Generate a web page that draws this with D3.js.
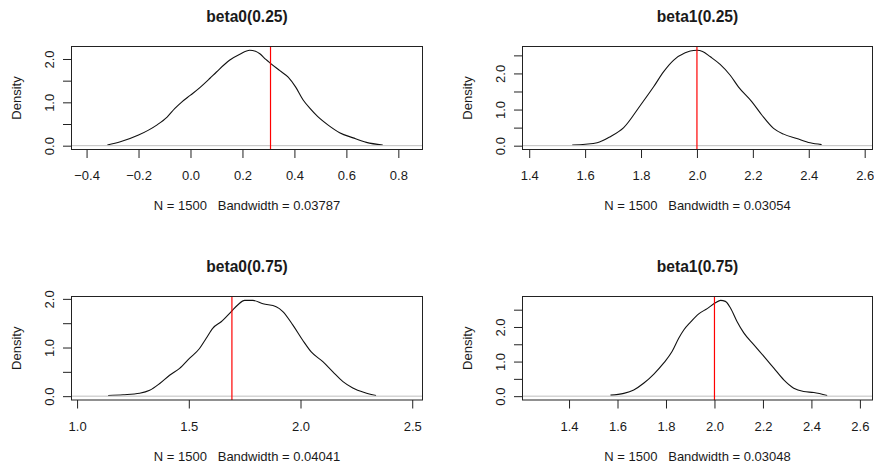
<!DOCTYPE html>
<html>
<head>
<meta charset="utf-8">
<script src="https://cdn.jsdelivr.net/npm/d3@7"></script>
<style>
  body { margin: 0; background: #fff; }
  svg { display: block; }
  text { font-family: "Liberation Sans", Arial, sans-serif; fill: #1a1a1a; }
</style>
</head>
<body>
<svg id="chart"></svg>
<script>
// panel titles and bottom labels
const titles = ["beta0(0.25)", "beta1(0.25)", "beta0(0.75)", "beta1(0.75)"];
const subLabels = [
  "N = 1500   Bandwidth = 0.03787",
  "N = 1500   Bandwidth = 0.03054",
  "N = 1500   Bandwidth = 0.04041",
  "N = 1500   Bandwidth = 0.03048",
];

// density curves
const b0q25X = [-0.32, -0.27, -0.2, -0.13, -0.09, -0.06, -0.035, 0.0, 0.036, 0.074, 0.1, 0.15, 0.19, 0.228, 0.25, 0.267, 0.29, 0.308, 0.344, 0.376, 0.405, 0.433, 0.46, 0.49, 0.53, 0.574, 0.626, 0.677, 0.74];
const b0q25Y = [0.015, 0.09, 0.245, 0.475, 0.66, 0.86, 1.0, 1.165, 1.34, 1.55, 1.7, 1.97, 2.11, 2.2, 2.18, 2.12, 1.99, 1.9, 1.73, 1.58, 1.35, 1.06, 0.86, 0.67, 0.475, 0.3, 0.18, 0.077, 0.015];

const b1q25X = [1.554, 1.601, 1.643, 1.69, 1.738, 1.798, 1.845, 1.881, 1.917, 1.958, 1.976, 2.0, 2.02, 2.048, 2.083, 2.119, 2.149, 2.196, 2.232, 2.274, 2.31, 2.357, 2.405, 2.446];
const b1q25Y = [0.02, 0.04, 0.08, 0.25, 0.5, 1.12, 1.63, 2.05, 2.37, 2.57, 2.62, 2.64, 2.61, 2.46, 2.25, 1.95, 1.62, 1.22, 0.85, 0.48, 0.32, 0.2, 0.08, 0.03];

const b0q75X = [1.139, 1.206, 1.28, 1.325, 1.37, 1.414, 1.459, 1.504, 1.548, 1.578, 1.608, 1.645, 1.69, 1.72, 1.75, 1.787, 1.832, 1.891, 1.921, 1.966, 2.01, 2.048, 2.1, 2.145, 2.19, 2.234, 2.286, 2.338];
const b0q75Y = [0.014, 0.03, 0.06, 0.12, 0.26, 0.43, 0.57, 0.78, 0.98, 1.19, 1.4, 1.53, 1.74, 1.88, 1.97, 1.97, 1.9, 1.84, 1.74, 1.46, 1.15, 0.91, 0.71, 0.5, 0.3, 0.17, 0.076, 0.014];

const b1q75X = [1.571, 1.626, 1.667, 1.709, 1.75, 1.791, 1.825, 1.853, 1.874, 1.901, 1.935, 1.97, 2.004, 2.025, 2.045, 2.066, 2.093, 2.121, 2.162, 2.21, 2.245, 2.286, 2.327, 2.368, 2.41, 2.465];
const b1q75Y = [0.03, 0.08, 0.18, 0.38, 0.64, 0.96, 1.29, 1.68, 1.92, 2.14, 2.38, 2.53, 2.7, 2.77, 2.74, 2.55, 2.16, 1.83, 1.49, 1.1, 0.81, 0.47, 0.23, 0.135, 0.106, 0.02];

// red reference lines
const refValues = [0.308, 2.0, 1.693, 2.0];

// axis ticks
const xTicks = [
  [-0.4, -0.2, 0.0, 0.2, 0.4, 0.6, 0.8],
  [1.4, 1.6, 1.8, 2.0, 2.2, 2.4, 2.6],
  [1.0, 1.5, 2.0, 2.5],
  [1.4, 1.6, 1.8, 2.0, 2.2, 2.4, 2.6],
];
const yTicks = [
  [0, 0.5, 1, 1.5, 2],
  [0, 0.5, 1, 1.5, 2, 2.5],
  [0, 0.5, 1, 1.5, 2],
  [0, 0.5, 1, 1.5, 2, 2.5],
];
const xDomains = [[-0.458, 0.893], [1.376, 2.628], [0.975, 2.546], [1.208, 2.652]];

const curvesX = [b0q25X, b1q25X, b0q75X, b1q75X];
const curvesY = [b0q25Y, b1q25Y, b0q75Y, b1q75Y];

const W = 874;
const H = 470;

// plot regions (left, right, top, bottom)
const boxes = [
  { l: 71.5, r: 422.5, t: 46.5, b: 149.5 },
  { l: 522.5, r: 872.5, t: 46.5, b: 149.5 },
  { l: 71.5, r: 422.5, t: 296.5, b: 400 },
  { l: 522.5, r: 872.5, t: 296.5, b: 400 },
];

const svg = d3.select("#chart").attr("width", W).attr("height", H);

titles.forEach((title, i) => {
  const box = boxes[i];
  const xs = curvesX[i];
  const ys = curvesY[i];
  const data = xs.map((x, j) => ({ x: x, y: ys[j] }));

  const xScale = d3.scaleLinear().domain(xDomains[i]).range([box.l, box.r]);
  // R style: 4% padding around [0, max]
  const yMax = d3.max(ys);
  const yScale = d3
    .scaleLinear()
    .domain([-0.04 * yMax, 1.04 * yMax])
    .range([box.b, box.t]);

  const g = svg.append("g").attr("class", "panel");

  //density curve
  g.append("path")
    .datum(data)
    .attr("fill", "none")
    .attr("stroke", "#111")
    .attr("stroke-width", 1.1)
    .attr(
      "d",
      d3
        .line()
        .x((d) => xScale(d.x))
        .y((d) => yScale(d.y))
        .curve(d3.curveMonotoneX)
    );

  //zero line
  g.append("line")
    .attr("x1", box.l)
    .attr("x2", box.r)
    .attr("y1", yScale(0))
    .attr("y2", yScale(0))
    .attr("stroke", "#bebebe")
    .attr("stroke-width", 1);

  //red line
  g.append("line")
    .attr("x1", xScale(refValues[i]))
    .attr("x2", xScale(refValues[i]))
    .attr("y1", box.t)
    .attr("y2", box.b)
    .attr("stroke", "#ff0000")
    .attr("stroke-width", 1.2);

  //box
  g.append("rect")
    .attr("x", box.l)
    .attr("y", box.t)
    .attr("width", box.r - box.l)
    .attr("height", box.b - box.t)
    .attr("fill", "none")
    .attr("stroke", "#222")
    .attr("stroke-width", 1);

  //axes
  const xAxis = d3
    .axisBottom(xScale)
    .tickValues(xTicks[i])
    .tickSizeOuter(0)
    .tickSize(8.5)
    .tickFormat(d3.format(".1f"));
  const yAxis = d3
    .axisLeft(yScale)
    .tickValues(yTicks[i])
    .tickSizeOuter(0)
    .tickSize(8.5)
    .tickFormat((d) => (d % 1 === 0 ? d3.format(".1f")(d) : ""));

  const gx = g
    .append("g")
    .attr("transform", `translate(0, ${box.b})`)
    .call(xAxis);
  gx.select(".domain").remove();
  gx.selectAll(".tick line").attr("stroke", "#222");
  gx.selectAll(".tick text")
    .attr("y", 30.5)
    .attr("dy", 0)
    .style("font-size", "13px")
    .attr("fill", "#1a1a1a");

  const gy = g
    .append("g")
    .attr("transform", `translate(${box.l}, 0)`)
    .call(yAxis);
  gy.select(".domain").remove();
  gy.selectAll(".tick line").attr("stroke", "#222");
  gy.selectAll(".tick text")
    .attr("x", 0)
    .attr("y", -18)
    .attr("dy", 0)
    .attr("text-anchor", "middle")
    .attr("transform", "rotate(-90)")
    .style("font-size", "13px")
    .attr("fill", "#1a1a1a");

  //labels
  const cx = (box.l + box.r) / 2;
  g.append("text")
    .attr("x", cx)
    .attr("y", box.t - 24.8)
    .attr("text-anchor", "middle")
    .style("font-size", "15.6px")
    .style("font-weight", "bold")
    .text(title);

  g.append("text")
    .attr("x", cx)
    .attr("y", box.b + 60.5)
    .attr("text-anchor", "middle")
    .style("font-size", "13px")
    .style("white-space", "pre")
    .text(subLabels[i]);

  g.append("text")
    .attr("transform", `translate(${box.l - 51}, ${(box.t + box.b) / 2}) rotate(-90)`)
    .attr("text-anchor", "middle")
    .style("font-size", "13px")
    .text("Density");
});
</script>
</body>
</html>
